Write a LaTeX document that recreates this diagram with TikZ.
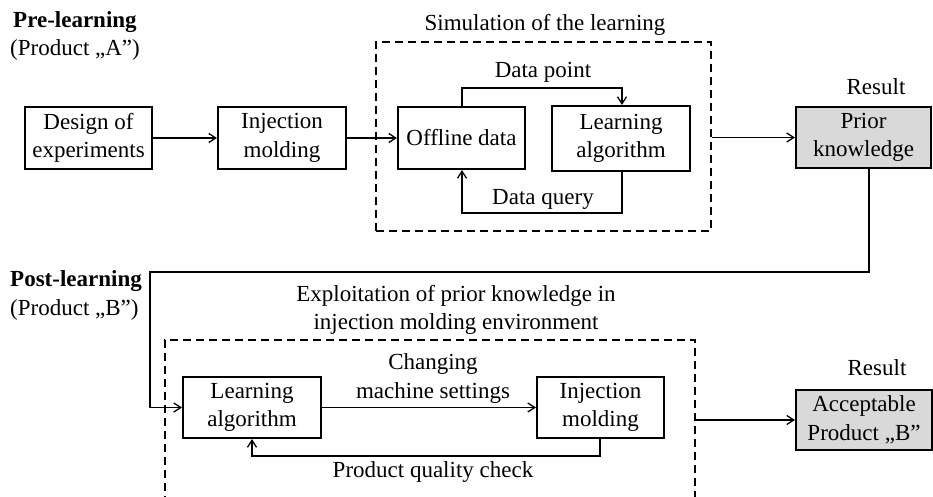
\documentclass[tikz,border=0pt]{standalone}
\usepackage{fontspec}
\setmainfont{Liberation Serif}
\usetikzlibrary{arrows.meta}
\begin{document}
\begin{tikzpicture}[x=1pt,y=-1pt,
  every node/.style={font=\fontsize{23}{28.5}\selectfont},
  box/.style={draw, line width=2.1pt, align=center, inner sep=0pt},
  resbox/.style={box, fill=black!15},
  frame/.style={draw, dashed, line width=2pt, dash pattern=on 8pt off 5pt, inner sep=0pt},
  conn/.style={line width=1.3pt, -{Straight Barb[length=7pt,width=9pt,line width=1.3pt]}},
  line/.style={line width=1.3pt},
  lbl/.style={align=center, inner sep=0pt},
  head/.style={anchor=west, inner sep=0pt, font=\fontsize{23}{27}\selectfont\bfseries},
  sub/.style={anchor=west, inner sep=0pt}]
\useasboundingbox (0,0) rectangle (933,497);
\clip (0,0) rectangle (933,497);

% headings
\node[head] (pre) at (13,22) {Pre-learning};
\node[sub] (preA) at (10,50) {(Product „A”)};
\node[head] (post) at (10,281) {Post-learning};
\node[sub] (postB) at (10,310) {(Product „B”)};

% frames
\node[frame, minimum width=335pt, minimum height=189pt] (sim) at (543.5,136.5) {};
\node[frame, minimum width=530pt, minimum height=240pt] (expl) at (430,460) {};
\node[lbl] (simt) at (545,25) {Simulation of the learning};
\node[lbl] (explt) at (456,310) {Exploitation of prior knowledge in\\injection molding environment};

% top row
\node[box, minimum width=127pt, minimum height=62pt] (doe) at (88.5,138) {Design of\\experiments};
\node[box, minimum width=128pt, minimum height=62pt] (im1) at (282,138) {Injection\\molding};
\node[box, minimum width=127pt, minimum height=62pt] (off) at (461.5,138) {Offline data};
\node[box, minimum width=138pt, minimum height=65pt] (la1) at (621,138.5) {Learning\\algorithm};
\node[resbox, minimum width=135pt, minimum height=61pt] (prior) at (863.5,137.5) {Prior\\knowledge};
\node[lbl] (res1) at (876,87) {Result};

% bottom row
\node[box, minimum width=138pt, minimum height=61pt] (la2) at (252,407.5) {Learning\\algorithm};
\node[box, minimum width=127pt, minimum height=61pt] (im2) at (600.5,407.5) {Injection\\molding};
\node[resbox, minimum width=136pt, minimum height=60pt] (acc) at (864,420) {Acceptable\\Product „B”};
\node[lbl] (res2) at (877,368) {Result};

% labels
\node[lbl] (dp) at (543,72) {Data point};
\node[lbl] (dq) at (543,199) {Data query};
\node[lbl] (cms) at (433,378.5) {Changing\\machine settings};
\node[lbl] (pqc) at (433,472) {Product quality check};

% helper coordinates
\coordinate (dpL) at (462,88);
\coordinate (dpR) at (622,88);
\coordinate (dqR) at (622,213);
\coordinate (dqL) at (462,213);
\coordinate (pk1) at (869,272);
\coordinate (pk2) at (150,272);
\coordinate (pk3) at (150,407.5);
\coordinate (qc1) at (600,456);
\coordinate (qc2) at (252,456);

% connectors
\draw[conn] (doe.east) -- (im1.west);
\draw[conn] (im1.east) -- (off.west);
\draw[conn] (dpL |- off.north) -- (dpL) -- (dpR) -- (dpR |- la1.north);
\draw[conn] (dqR |- la1.south) -- (dqR) -- (dqL) -- (dqL |- off.south);
\draw[conn] (sim.east |- prior.west) -- (prior.west);
\draw[conn] (pk1 |- prior.south) -- (pk1) -- (pk2) -- (pk3) -- (la2.west);
\draw[conn] (la2.east) -- (im2.west);
\draw[conn] (qc1 |- im2.south) -- (qc1) -- (qc2) -- (qc2 |- la2.south);
\draw[conn] (expl.east |- acc.west) -- (acc.west);
\end{tikzpicture}
\end{document}
